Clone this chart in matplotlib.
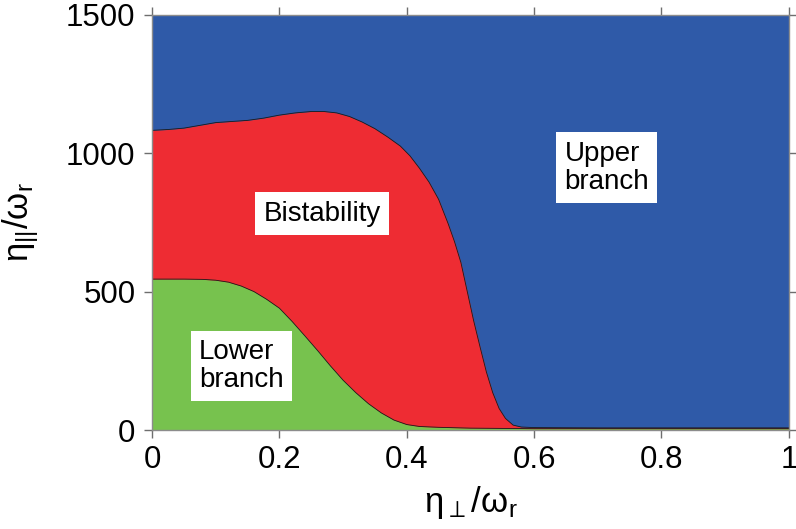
import numpy as np
import matplotlib
matplotlib.use("Agg")
import matplotlib.pyplot as plt

plt.rcParams['font.family'] = ['Liberation Sans', 'DejaVu Sans']
plt.rcParams['mathtext.fontset'] = 'custom'
plt.rcParams['mathtext.rm'] = 'Liberation Sans'
plt.rcParams['mathtext.fallback'] = 'stixsans'

# boundary between bistable region and upper branch
x_upper = [0.000, 0.025, 0.050, 0.075, 0.100, 0.125, 0.150, 0.175, 0.200,
           0.225, 0.250, 0.270, 0.290, 0.310, 0.330, 0.350, 0.370, 0.390,
           0.405, 0.420, 0.435, 0.450, 0.465, 0.475, 0.485, 0.495, 0.505,
           0.515, 0.525, 0.535, 0.545, 0.555, 0.567, 0.580, 0.600, 0.700,
           1.000]
y_upper = [1082, 1085, 1090, 1100, 1110, 1114, 1118, 1126, 1137,
           1145, 1150, 1150, 1145, 1132, 1112, 1088, 1058, 1025,
           990, 945, 895, 833, 745, 680, 605, 500, 395,
           301, 210, 135, 78, 42, 18, 11, 9, 8,
           8]

# boundary between lower branch and bistable region
x_lower = [0.000, 0.050, 0.080, 0.100, 0.120, 0.140, 0.160, 0.180, 0.200,
           0.220, 0.240, 0.260, 0.280, 0.300, 0.320, 0.340, 0.360, 0.380,
           0.400, 0.420, 0.450, 0.500, 0.600, 1.000]
y_lower = [545, 545, 544, 541, 534, 520, 500, 472, 440,
           392, 340, 287, 232, 180, 135, 95, 62, 36,
           20, 13, 10, 7, 5, 5]

labels = ["Lower\nbranch", "Bistability", "Upper\nbranch"]
label_x = [0.140, 0.267, 0.714]
label_y = [231, 781, 947]

c_blue = '#2F5AA8'
c_red = '#EE2C33'
c_green = '#77C24E'

fig = plt.figure(figsize=(7.96, 5.29), dpi=100)
ax = fig.add_axes([0.191, 0.187, 0.800, 0.7855])

ax.fill_between([0, 1], 0, 1500, color=c_blue, lw=0, zorder=1)
ax.fill_between(x_upper, 0, y_upper, color=c_red, lw=0, zorder=2)
ax.fill_between(x_lower, 0, y_lower, color=c_green, lw=0, zorder=3)
ax.plot(x_upper, y_upper, color='#1a1a1a', lw=0.6, zorder=4)
ax.plot(x_lower, y_lower, color='#1a1a1a', lw=0.6, zorder=4)

for txt, lx, ly in zip(labels, label_x, label_y):
    ax.text(lx, ly, txt, fontsize=20, ha='center', va='center',
            multialignment='left', linespacing=1.1, zorder=5,
            bbox=dict(boxstyle='square,pad=0.3', fc='white', ec='none'))

ax.set_xlim(0, 1)
ax.set_ylim(0, 1500)
ax.set_xticks([0, 0.2, 0.4, 0.6, 0.8, 1])
ax.set_xticklabels(['0', '0.2', '0.4', '0.6', '0.8', '1'])
ax.set_yticks([0, 500, 1000, 1500])

for s in ax.spines.values():
    s.set_color('#8c8c8c')
    s.set_linewidth(1.0)
    s.set_zorder(6)

ax.tick_params(direction='out', length=6, width=1, color='#6e6e6e',
               labelsize=22.5, top=True, right=True, pad=5)
ax.tick_params(axis='y', pad=6)

ax.set_xlabel('$\\mathregular{η_{\\perp}/ω_r}$', fontsize=25)
ax.set_ylabel('$\\mathregular{η_{||}/ω_r}$', fontsize=25)
ax.xaxis.set_label_coords(0.50, -0.13)
ax.yaxis.set_label_coords(-0.175, 0.5)

fig.savefig('out.png', dpi=100)
